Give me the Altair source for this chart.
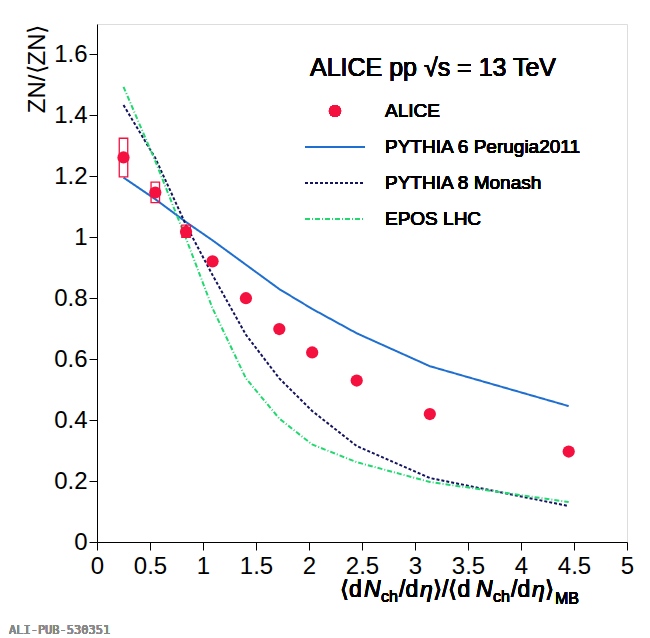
import altair as alt
import pandas as pd

# ALICE data points
x_alice = [0.25, 0.55, 0.84, 1.09, 1.405, 1.72, 2.03, 2.45, 3.14, 4.45]
y_alice = [1.262, 1.147, 1.018, 0.921, 0.80, 0.699, 0.622, 0.53, 0.42, 0.297]
sys_lo = [1.198, 1.114, 1.0, 0.91, 0.79, 0.69, 0.613, 0.52, 0.412, 0.29]
sys_hi = [1.325, 1.181, 1.04, 0.93, 0.81, 0.708, 0.63, 0.54, 0.428, 0.304]

# model curves (evaluated at the ALICE multiplicity classes)
y_py6 = [1.196, 1.125, 1.05, 0.99, 0.91, 0.83, 0.765, 0.685, 0.577, 0.446]
y_py8 = [1.434, 1.26, 1.04, 0.876, 0.68, 0.537, 0.43, 0.315, 0.21, 0.118]
y_epos = [1.494, 1.25, 0.996, 0.767, 0.537, 0.405, 0.32, 0.262, 0.197, 0.131]

models = ["PYTHIA 6 Perugia2011", "PYTHIA 8 Monash", "EPOS LHC"]
model_colors = ["#1f6fd0", "#14145e", "#22d870"]
model_dash = [[1, 0], [3, 2], [5, 2, 1, 2]]
RED = "#f5113f"
FONT = "Liberation Sans"

alice = pd.DataFrame({"x": x_alice, "y": y_alice, "lo": sys_lo, "hi": sys_hi})
alice["xl"] = alice["x"] - 0.04
alice["xr"] = alice["x"] + 0.04
sys_df = alice.iloc[:3]

rows = []
for name, ys in zip(models, [y_py6, y_py8, y_epos]):
    for xv, yv in zip(x_alice, ys):
        rows.append({"model": name, "x": xv, "y": yv})
curves = pd.DataFrame(rows)

xsc = alt.Scale(domain=[0, 5], nice=False)
ysc = alt.Scale(domain=[0, 1.7], nice=False)
xax = alt.Axis(values=[i * 0.5 for i in range(11)], labelFontSize=24, title=None,
               format="~g", tickSize=8, grid=False, domainColor="black", tickColor="black",
               labelColor="black", labelFont=FONT, labelFlush=False, labelPadding=4)
yax = alt.Axis(values=[i * 0.2 for i in range(9)], labelFontSize=24, format="~g",
               title="ZN/⟨ZN⟩", titleFontSize=24, titleFont=FONT,
               titleFontWeight="normal", titleAnchor="end", titleColor="black",
               tickSize=8, grid=False, domainColor="black", tickColor="black",
               labelColor="black", labelFont=FONT, labelFlush=False)

base = alt.Chart(curves)
lines = base.mark_line(strokeWidth=2).encode(
    x=alt.X("x:Q", scale=xsc, axis=xax),
    y=alt.Y("y:Q", scale=ysc, axis=yax),
    color=alt.Color("model:N", scale=alt.Scale(domain=models, range=model_colors), legend=None),
    strokeDash=alt.StrokeDash("model:N", scale=alt.Scale(domain=models, range=model_dash), legend=None),
)

boxes = alt.Chart(sys_df).mark_rect(fill=None, stroke=RED, strokeWidth=1.3).encode(
    x="xl:Q", x2="xr", y="lo:Q", y2="hi")
xerr = alt.Chart(alice.iloc[-1:]).mark_rule(color=RED, strokeWidth=1.5).encode(
    x=alt.X("xl:Q"), x2="xr", y="y:Q")
pts = alt.Chart(alice).mark_circle(size=150, color=RED, opacity=1).encode(x="x:Q", y="y:Q")

# legend and annotations
title = alt.Chart(alice).mark_text(text="ALICE pp √s = 13 TeV", fontSize=25, font=FONT,
                                   align="left", baseline="middle").encode(
    x=alt.value(213), y=alt.value(44))
leg_pt = alt.Chart(alice).mark_circle(size=150, color=RED, opacity=1).encode(
    x=alt.value(238), y=alt.value(87))
leg_items = [alt.Chart(alice).mark_text(text="ALICE", fontSize=19, font=FONT, align="left").encode(
    x=alt.value(288), y=alt.value(87))]
for i, (name, col, dash) in enumerate(zip(models, model_colors, model_dash)):
    yy = 123 + i * 36
    leg_items.append(alt.Chart(alice).mark_rule(color=col, strokeWidth=2, strokeDash=dash).encode(
        x=alt.value(208), x2=alt.value(268), y=alt.value(yy)))
    leg_items.append(alt.Chart(alice).mark_text(text=name, fontSize=19, font=FONT, align="left").encode(
        x=alt.value(288), y=alt.value(yy)))

# x-axis title built from pieces (subscripts)
pieces = [("⟨d", 243, 566, 23, "normal"), ("N", 267, 566, 23, "italic"),
          ("ch", 284, 573, 16, "normal"), ("/d", 302, 566, 23, "normal"),
          ("η", 323, 566, 23, "italic"), ("⟩/⟨d", 336, 566, 23, "normal"),
          ("N", 379, 566, 23, "italic"), ("ch", 396, 573, 16, "normal"),
          ("/d", 414, 566, 23, "normal"), ("η", 435, 566, 23, "italic"),
          ("⟩", 448, 566, 23, "normal"), ("MB", 458, 575, 16, "normal")]
xt = [alt.Chart(alice).mark_text(text=t, fontSize=fs, font=FONT, fontStyle=st,
                                 align="left", baseline="middle").encode(
    x=alt.value(px), y=alt.value(py)) for t, px, py, fs, st in pieces]

pub = alt.Chart(alice).mark_text(text="ALI-PUB-530351", fontSize=12, font="DejaVu Sans Mono",
                                 color="#888888", align="left").encode(
    x=alt.value(-88), y=alt.value(606))

chart = alt.layer(lines, boxes, xerr, pts, title, leg_pt, *leg_items, *xt, pub).properties(
    width=530, height=518, autosize="none",
    padding={"left": 89, "top": 16, "right": 15, "bottom": 96},
).configure_view(stroke="black", strokeWidth=1).configure(background="white")

chart.save("out.html", embed_options={"renderer": "svg", "actions": False})
